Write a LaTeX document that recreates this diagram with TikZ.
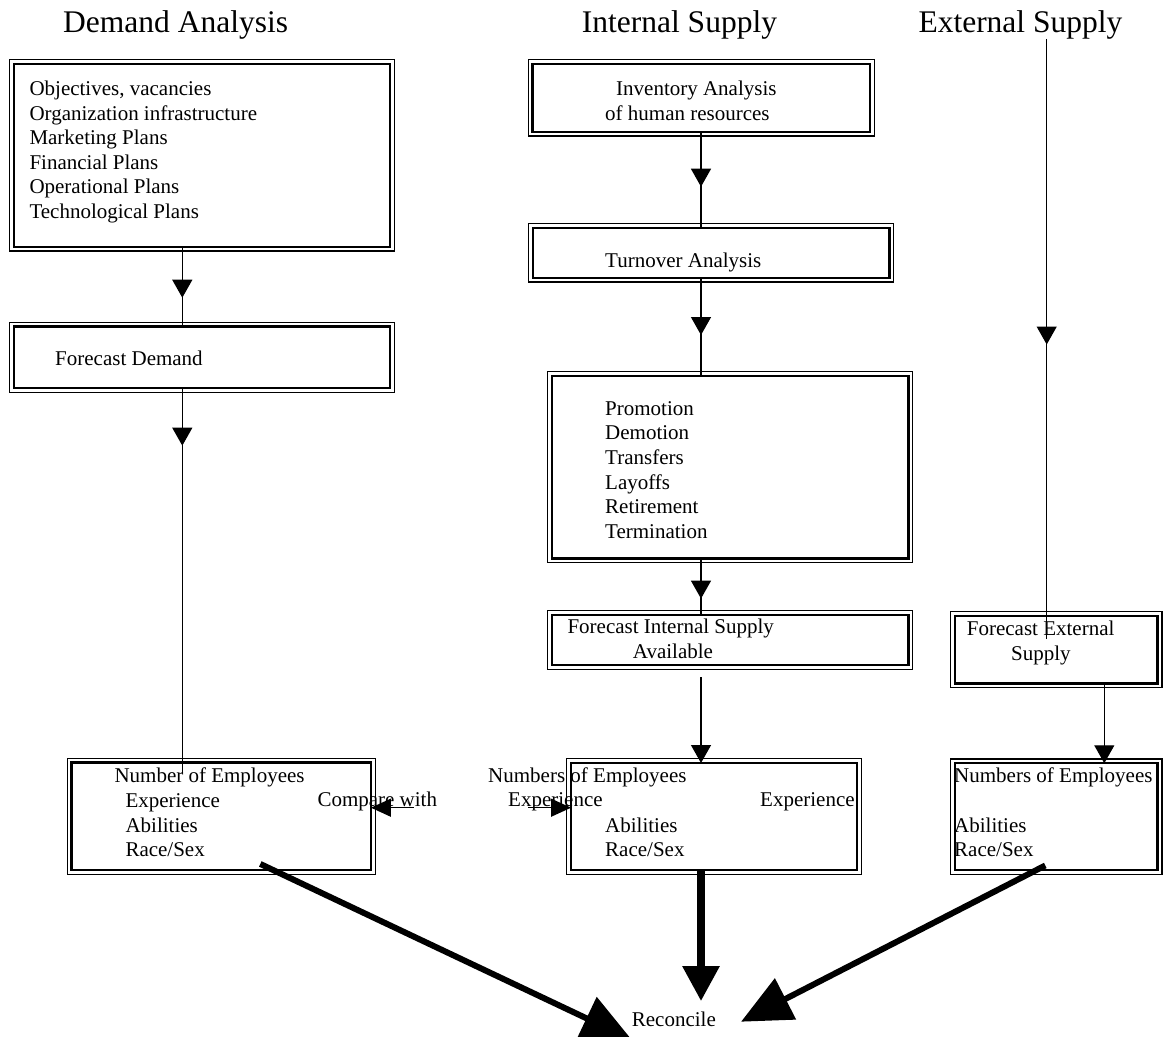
\documentclass[tikz,border=0pt]{standalone}
\usepackage{fontspec}
\setmainfont{Liberation Serif}
\usetikzlibrary{arrows.meta,decorations.markings,calc}

\tikzset{
  box/.style={preaction={draw, line width=10pt}, preaction={draw=white, line width=7.4pt},
      fill=white, draw, line width=2.4pt, inner sep=0pt, outer sep=0pt},
  txt/.style={anchor=base west, inner sep=0pt, align=left, font=\fontsize{21}{24.6}\selectfont},
  heading/.style={anchor=base west, inner sep=0pt, font=\fontsize{31.5}{36}\selectfont},
  flow/.style={line width=1.3pt},
  midtip/.style={postaction={decorate}, decoration={markings,
      mark=at position #1 with {\arrow{Triangle[width=20pt,length=18pt]}}}},
  endtip/.style={-{Triangle[width=20pt,length=18pt]}},
  sidetip/.style={-{Triangle[width=18pt,length=20pt]}}
}

\begin{document}
\begin{tikzpicture}[x=1pt, y=-1pt]
      \useasboundingbox (0,0) rectangle (1167,1036);

      % column titles
      \node[heading] (hdem) at (63,32) {Demand Analysis};
      \node[heading] (hint) at (581.7,32) {Internal Supply};
      \node[heading] (hext) at (918.3,32) {External Supply};

      % demand side (multi-line texts sit on their last line)
      \node[box, minimum width=376pt, minimum height=183pt] (obj) at (202,155.2) {};
      \node[txt] (objt) at (29.3,218.5) {Objectives, vacancies\\Organization infrastructure\\Marketing Plans\\Financial Plans\\Operational Plans\\Technological Plans};
      \node[box, minimum width=376pt, minimum height=61.3pt] (fcd) at (202,357.3) {};
      \node[txt] (fcdt) at (55,365.7) {Forecast Demand};
      \node[box, minimum width=299.3pt, minimum height=107.3pt] (dnum) at (221.3,816.3) {};
      \node[txt] (dnumt) at (114.3,856.7) {Number of Employees\\\hspace*{11pt}Experience\\\hspace*{11pt}Abilities\\\hspace*{11pt}Race/Sex};
      \node[txt] (cmp) at (317.3,806.7) {Compare with};

      % internal supply
      \node[box, minimum width=337.3pt, minimum height=68pt] (inv) at (701.3,97.7) {};
      \node[txt] (invt) at (605,120) {\hspace*{11pt}Inventory Analysis\\of human resources};
      \node[box, minimum width=356.6pt, minimum height=50pt] (turn) at (711,252.7) {};
      \node[txt] (turnt) at (605,267.7) {Turnover Analysis};
      \node[box, minimum width=356.6pt, minimum height=182.6pt] (move) at (730,467) {};
      \node[txt] (movet) at (605,538.3) {Promotion\\Demotion\\Transfers\\Layoffs\\Retirement\\Termination};
      \node[box, minimum width=356.6pt, minimum height=50pt] (fis) at (730,640) {};
      \node[txt] (fist) at (567.3,658.3) {Forecast Internal Supply\\\hspace*{65.4pt}Available};
      \node[box, minimum width=286pt, minimum height=107pt] (inum) at (714,816.5) {};
      \node[txt] (inumt) at (488,806.7) {Numbers of Employees\\\hspace*{20pt}Experience};
      \node[txt] (inumx) at (760,806.7) {Experience};
      \node[txt] (inuma) at (605,856.7) {Abilities\\Race/Sex};

      % external supply
      \node[box, minimum width=202.7pt, minimum height=67.6pt] (fes) at (1056.3,649.5) {};
      \node[txt] (fest) at (966.7,660) {Forecast External\\\hspace*{44.3pt}Supply};
      \node[box, minimum width=202.7pt, minimum height=106.7pt] (enum) at (1056.3,816.6) {};
      \node[txt] (enumt) at (954,856.7) {Numbers of Employees\\[24.6pt]Abilities\\Race/Sex};

      \node[txt] (rec) at (631.7,1026.7) {Reconcile};

      \coordinate (dx) at (182.3,0);
      \coordinate (ix) at (701,0);
      \coordinate (ex) at (1046.7,0);
      \coordinate (fx) at (1104.3,0);
      \coordinate (cmpl) at (413.5,807.7);
      \coordinate (cmpr) at (528,807.7);

      \draw[flow, midtip=0.638] (obj.south -| dx) -- (fcd.north -| dx);
      \draw[flow, midtip=0.150] (fcd.south -| dx) -- ([yshift=-10pt]dnum.north -| dx);
      \draw[flow, midtip=0.573] (inv.south -| ix) -- (turn.north -| ix);
      \draw[flow, midtip=0.585] (turn.south -| ix) -- (move.north -| ix);
      \draw[flow, midtip=0.711] (move.south -| ix) -- (fis.north -| ix);
      \draw[flow, endtip, shorten <=12pt] (fis.south -| ix) -- (inum.north -| ix);
      \draw[flow, midtip=0.509] (hext.south -| ex) -- ([yshift=-23.5pt]fes.north -| ex);
      \draw[flow, endtip] (fes.south -| fx) -- (enum.north -| fx);
      \draw[flow, sidetip] (cmpl) -- (dnum.east |- cmpl);
      \draw[flow, sidetip] (cmpr) -- (inum.west |- cmpr);

      % into reconcile
      \draw[line width=6pt, -{Triangle[width=46pt,length=50pt]}] (dnum.south) ++(39,-6) -- ($(rec.base west)+(0,13)$);
      \draw[line width=8.3pt, -{Triangle[width=35pt,length=35pt]}] (inum.south -| ix) -- ([yshift=10.7pt]rec.north -| ix);
      \draw[line width=6pt, -{Triangle[width=45pt,length=50pt]}] (enum.south) ++(-11,-4.5) -- ($(rec.base east)+(25,-5)$);
\end{tikzpicture}
\end{document}
